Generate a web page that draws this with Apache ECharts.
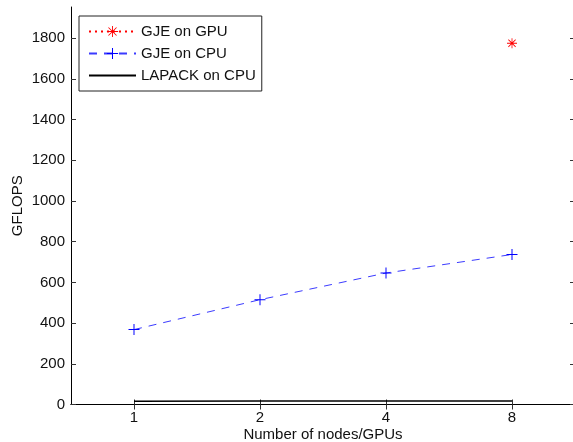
<!DOCTYPE html>
<html>
<head>
<meta charset="utf-8">
<script src="https://cdn.jsdelivr.net/npm/echarts@6/dist/echarts.min.js"></script>
<style>
  html, body { margin: 0; padding: 0; background: #fff; }
  #chart { width: 573px; height: 442px; }
</style>
</head>
<body>
<div id="chart"></div>
<script>
const categories = ['1', '2', '4', '8'];
const gjeGpu = [null, null, null, 1775];
const gjeCpu = [368, 515, 646, 737];
const lapackCpu = [16, 17, 17, 17];
const yTicks = [0, 200, 400, 600, 800, 1000, 1200, 1400, 1600, 1800];

// MATLAB-like markers as filled paths
const asterisk = 'path://M0 9.2L20 9.2L20 10.8L0 10.8Z M9.2 0L10.8 0L10.8 20L9.2 20Z ' +
  'M2.2 3.3L3.3 2.2L17.8 16.7L16.7 17.8Z M16.7 2.2L17.8 3.3L3.3 17.8L2.2 16.7Z';
const plus = 'path://M0 9.1L20 9.1L20 10.9L0 10.9Z M9.1 0L10.9 0L10.9 20L9.1 20Z';

const font = 'Liberation Sans';
const chart = echarts.init(document.getElementById('chart'));

const tick = { show: true, inside: true, length: 5, alignWithLabel: true, lineStyle: { color: '#333' } };
const yTick = { show: true, inside: true, length: 5, customValues: yTicks, lineStyle: { color: '#333' } };

const option = {
  animation: false,
  backgroundColor: '#fff',
  textStyle: { fontFamily: font },
  grid: { left: 71, top: 7, width: 504, height: 397.5, outerBoundsMode: 'none', containLabel: false },
  legend: {
    orient: 'vertical',
    left: 79,
    top: 16,
    padding: [8, 6, 8, 9],
    itemWidth: 47,
    itemHeight: 14,
    itemGap: 7,
    borderColor: '#222',
    borderWidth: 1,
    backgroundColor: '#fff',
    textStyle: { fontFamily: font, fontSize: 15, color: '#111' },
    data: [
      'GJE on GPU',
      'GJE on CPU',
      { name: 'LAPACK on CPU', itemStyle: { opacity: 0 } }
    ]
  },
  xAxis: [
    {
      type: 'category',
      data: categories,
      boundaryGap: true,
      name: 'Number of nodes/GPUs',
      nameLocation: 'middle',
      nameGap: 23,
      nameMoveOverlap: false,
      nameTextStyle: { fontFamily: font, fontSize: 15, color: '#111' },
      axisLine: { lineStyle: { color: '#000' } },
      axisTick: tick,
      axisLabel: { fontFamily: font, fontSize: 15, color: '#111', margin: 6 },
      splitLine: { show: false }
    },
    {
      type: 'category',
      data: categories,
      position: 'top',
      boundaryGap: true,
      axisLine: { lineStyle: { color: '#000' } },
      axisTick: tick,
      axisLabel: { show: false },
      splitLine: { show: false }
    }
  ],
  yAxis: [
    {
      type: 'value',
      min: 0,
      max: 1953,
      name: 'GFLOPS',
      nameLocation: 'middle',
      nameGap: 46,
      nameMoveOverlap: false,
      nameTextStyle: { fontFamily: font, fontSize: 15, color: '#111' },
      axisLine: { show: true, lineStyle: { color: '#000' } },
      axisTick: yTick,
      axisLabel: {
        fontFamily: font, fontSize: 15, color: '#111', margin: 6,
        customValues: yTicks, formatter: (v) => String(v)
      },
      splitLine: { show: false }
    },
    {
      type: 'value',
      min: 0,
      max: 1953,
      position: 'right',
      axisLine: { show: true, lineStyle: { color: '#000' } },
      axisTick: yTick,
      axisLabel: { show: false },
      splitLine: { show: false }
    }
  ],
  series: [
    {
      name: 'GJE on GPU',
      type: 'line',
      data: gjeGpu,
      symbol: asterisk,
      symbolSize: 10,
      color: '#ff0000',
      itemStyle: { color: '#ff0000' },
      lineStyle: { color: '#ff0000', width: 1, type: [2, 4] }
    },
    {
      name: 'GJE on CPU',
      type: 'line',
      data: gjeCpu,
      symbol: plus,
      symbolSize: 11,
      color: '#0000ff',
      itemStyle: { color: '#0000ff' },
      lineStyle: { color: '#3b3bff', width: 1, type: [8, 7] }
    },
    {
      name: 'LAPACK on CPU',
      type: 'line',
      data: lapackCpu,
      symbol: 'none',
      color: '#000',
      lineStyle: { color: '#000', width: 1.5 }
    }
  ]
};

chart.setOption(option);
</script>
</body>
</html>
